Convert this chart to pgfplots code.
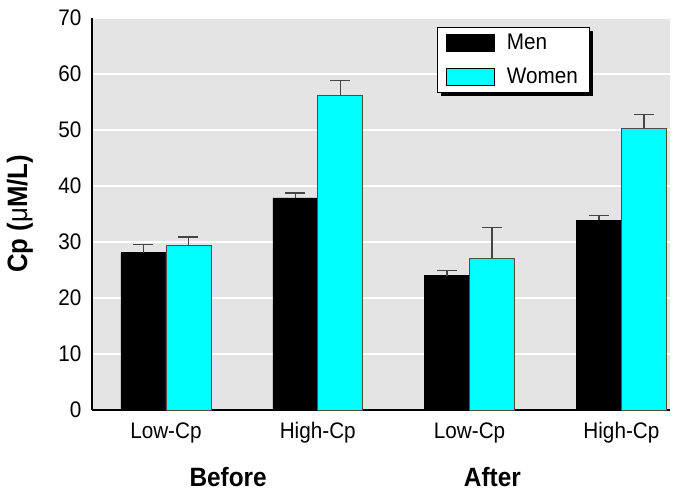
\documentclass[border=0pt]{standalone}
\usepackage{fontspec}
\setmainfont{Liberation Sans}[FakeStretch=0.92]
\usepackage{pgfplots}
\pgfplotsset{compat=1.18}
\usetikzlibrary{shadows}
\makeatletter
\tikzset{no preactions/.code={\let\tikz@preactions\pgfutil@empty}}
\makeatother
\definecolor{bggray}{HTML}{E4E4E4}
\definecolor{cyanbar}{HTML}{00FFFF}
\definecolor{errgray}{HTML}{454545}
\begin{document}
\begin{tikzpicture}
\begin{axis}[
  name=ax,
  scale only axis, width=578pt, height=392pt,
  ymin=0, ymax=70, ytick={0,10,...,70},
  xmin=-0.487, xmax=3.32,
  xtick={0,1,2,3}, xticklabels={Low-Cp,High-Cp,Low-Cp,High-Cp},
  axis x line*=bottom, axis y line*=left,
  axis line style={line width=1.2pt, -},
  major tick length=0pt,
  ymajorgrids, grid style={white, line width=1.3pt},
  axis background/.style={fill=bggray},
  /pgf/number format/assume math mode=true,
  tick label style={font=\fontsize{22.5}{22.5}\selectfont},
  yticklabel style={xshift=-7pt},
  xticklabel style={yshift=-9pt},
  ylabel={\bfseries Cp (\mdseries μ\bfseries M/L)},
  ylabel style={font=\fontsize{28}{28}\selectfont, at={([xshift=-72pt]rel axis cs:0,0.5)}, anchor=center},
  ybar=0pt, bar width=45pt,
  clip=false,
  legend style={at={(0.597,0.977)}, anchor=north west, draw=black, line width=0.6pt, fill=white,
    drop shadow={shadow xshift=4pt, shadow yshift=-4pt, fill=black, opacity=1},
    font=\fontsize{22.5}{22.5}\selectfont, inner xsep=9pt, inner ysep=5pt, row sep=13pt, column sep=10pt,
    cells={anchor=west}},
  legend image code/.code={\draw[no preactions, #1, draw=black, line width=0.5pt] (0pt,-8.5pt) rectangle (48pt,8.5pt);},
]
\addplot[fill=black, draw=black,
  error bars/.cd, y dir=plus, y explicit,
  error bar style={line width=1.2pt, color=errgray},
  error mark options={rotate=90, mark size=10pt, line width=1.2pt, color=errgray}]
  coordinates {(0,28.1) +- (0,1.5) (1,37.9) +- (0,0.85) (2,24.0) +- (0,0.9) (3,33.9) +- (0,0.8)};
\addplot[fill=cyanbar, draw=black!70, line width=0.8pt,
  error bars/.cd, y dir=plus, y explicit,
  error bar style={line width=1.2pt, color=errgray},
  error mark options={rotate=90, mark size=10pt, line width=1.2pt, color=errgray}]
  coordinates {(0,29.4) +- (0,1.5) (1,56.2) +- (0,2.7) (2,27.1) +- (0,5.5) (3,50.3) +- (0,2.4)};
\legend{Men,Women}
\node[font=\fontsize{26.5}{26.5}\selectfont\bfseries, anchor=base] at (axis cs:0.41,-13.7) {Before};
\node[font=\fontsize{26.5}{26.5}\selectfont\bfseries, anchor=base] at (axis cs:2.15,-13.7) {After};
\end{axis}
\pgfresetboundingbox
\path ([shift={(-92pt,-81pt)}]ax.south west) rectangle ([shift={(5pt,18pt)}]ax.north east);
\end{tikzpicture}
\end{document}
